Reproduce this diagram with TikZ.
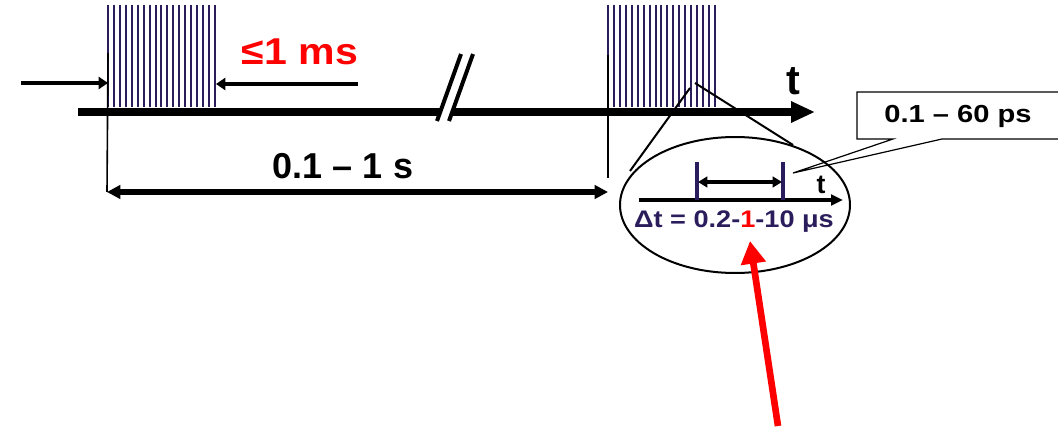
\documentclass[tikz,border=0pt]{standalone}
\usepackage{fontspec}
\setmainfont{Liberation Sans}
\newfontfamily\wideA[FakeStretch=1.18]{Liberation Sans}
\newfontfamily\wideB[FakeStretch=1.1]{Liberation Sans}
\newfontfamily\wideC[FakeStretch=1.13]{Liberation Sans}
\usetikzlibrary{arrows.meta,shapes.geometric}
\definecolor{navy}{HTML}{2B1D5C}
\definecolor{pred}{HTML}{FF0000}
\begin{document}
\begin{tikzpicture}[x=0.75pt,y=-0.75pt,
  pulse/.style={navy,line width=1.5pt},
  axisline/.style={line width=6pt,-{Triangle[length=18pt,width=15pt]}},
  thinline/.style={line width=1.2pt},
  dimarrow/.style={line width=3.5pt,-{Triangle[length=7pt,width=9pt]}},
  spanarrow/.style={line width=4pt,{Triangle[length=10pt,width=10pt]}-{Triangle[length=10pt,width=10pt]}},
  bigtext/.style={font=\fontsize{27}{30}\selectfont\bfseries,inner sep=0pt},
  redtext/.style={font=\wideB\fontsize{28}{30}\selectfont\bfseries,inner sep=0pt,text=pred},
  midtext/.style={font=\wideA\fontsize{18.5}{22}\selectfont\bfseries,inner sep=0pt},
  smalltext/.style={font=\wideC\fontsize{18}{20}\selectfont\bfseries,inner sep=0pt}]
\useasboundingbox (0,0) rectangle (1058,428);
% pulse trains
\foreach \i in {0,...,18}{
  \draw[pulse] (108+\i*5.94,5) -- (108+\i*5.94,107);
  \draw[pulse] (608+\i*5.94,5) -- (608+\i*5.94,107);
}
% time axis
\coordinate (a0) at (78,112);
\coordinate (a1) at (815,112);
\draw[axisline] (a0) -- (a1);
\node[bigtext,font=\fontsize{31}{33}\selectfont\bfseries] (tlab) at (793,81) {t};
% break mark
\coordinate (b1) at (437,121);
\coordinate (b2) at (461,54);
\coordinate (b3) at (449,121);
\coordinate (b4) at (473,54);
\fill[white] (b1) -- (b3) -- (b4) -- (b2) -- cycle;
\draw[line width=3pt] (b1) -- (b2);
\draw[line width=3pt] (b3) -- (b4);
% burst duration arrows
\coordinate (l0) at (21,83);
\coordinate (l1) at (108,83);
\coordinate (r0) at (358,84);
\coordinate (r1) at (216,84);
\draw[dimarrow] (l0) -- (l1);
\draw[dimarrow] (r0) -- (r1);
\node[redtext] (ms) at (300,52) {≤1 ms};
% period
\coordinate (v0) at (108,53);
\coordinate (v1) at (107,192);
\coordinate (w0) at (608,55);
\coordinate (w1) at (608,178);
\draw[thinline] (v0) -- (v1);
\draw[thinline] (w0) -- (w1);
\coordinate (p0) at (107,192);
\coordinate (p1) at (608,192);
\draw[spanarrow] (p0) -- (p1);
\node[bigtext] (per) at (343,166) {0.1 – 1 s};
% zoom ellipse
\node[draw,ellipse,line width=1.5pt,minimum width=172.5pt,minimum height=102pt,inner sep=0pt] (zoom) at (735,205) {};
\coordinate (z0) at (690,88);
\coordinate (z1) at (630,171);
\coordinate (z2) at (695,83);
\coordinate (z3) at (793,145);
\draw[line width=1.5pt] (z0) -- (z1);
\draw[line width=1.5pt] (z2) -- (z3);
% inner axis
\coordinate (s0) at (639,200);
\coordinate (s1) at (843,200);
\draw[line width=2.5pt,-{Triangle[length=9pt,width=8pt]}] (s0) -- (s1);
\draw[navy,line width=2.5pt] (697,162) -- (697,200);
\draw[navy,line width=2.5pt] (783,162) -- (783,200);
\coordinate (d0) at (698,182);
\coordinate (d1) at (782,182);
\draw[line width=2.5pt,{Triangle[length=7pt,width=8pt]}-{Triangle[length=7pt,width=8pt]}] (d0) -- (d1);
\node[smalltext,font=\fontsize{20}{22}\selectfont\bfseries] (tsmall) at (821,185) {t};
\node[smalltext,text=navy] (dt) at (734,222) {Δt = 0.2-{\color{pred}1}-10 μs};
% callout
\node[midtext] (box) at (958,116) {0.1 – 60 ps};
\coordinate (c0) at (857,92);
\coordinate (c1) at (1075,92);
\coordinate (c2) at (1075,139);
\coordinate (c3) at (942,139);
\coordinate (c4) at (793,173);
\coordinate (c5) at (893,139);
\coordinate (c6) at (857,139);
\draw[line width=0.9pt] (c3) -- (c2) -- (c1) -- (c0) -- (c6) -- (c5) -- (c4) -- cycle;
% red pointer
\coordinate (ra) at (778,426);
\coordinate (rb) at (750,241);
\draw[pred,line width=5pt,-{Triangle[length=17pt,width=18pt]}] (ra) -- (rb);
\end{tikzpicture}
\end{document}
